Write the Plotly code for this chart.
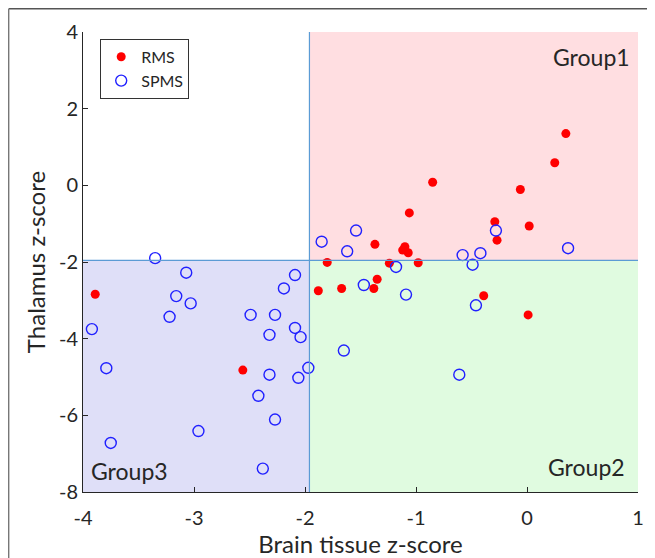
import plotly.graph_objects as go

# RMS (filled red) points
rms_x = [0.35, 0.25, -0.06, 0.02, -0.29, -0.27, -0.85, -1.06, -1.37, -1.10, -1.12, -1.07,
         -1.24, -0.98, -1.80, -1.35, -1.38, -1.67, -1.88, -0.39, 0.01, -3.89, -2.56]
rms_y = [1.35, 0.59, -0.11, -1.06, -0.95, -1.43, 0.08, -0.72, -1.54, -1.60, -1.69, -1.76,
         -2.03, -2.02, -2.01, -2.45, -2.69, -2.69, -2.75, -2.88, -3.38, -2.84, -4.82]

# SPMS (open blue) points
spms_x = [-1.85, -1.62, -1.54, -3.35, -0.28, 0.37, -1.18, -0.58, -0.42, -0.49, -1.47, -1.09,
          -0.46, -1.65, -0.61, -3.07, -3.16, -3.03, -3.22, -3.92, -3.79, -3.75, -2.96, -2.09,
          -2.19, -2.49, -2.27, -2.32, -2.09, -2.04, -1.97, -2.32, -2.06, -2.42, -2.27, -2.38]
spms_y = [-1.47, -1.72, -1.18, -1.90, -1.18, -1.64, -2.13, -1.82, -1.77, -2.07, -2.60, -2.85,
          -3.13, -4.31, -4.94, -2.28, -2.89, -3.08, -3.43, -3.75, -4.77, -6.72, -6.41, -2.34,
          -2.69, -3.38, -3.38, -3.90, -3.72, -3.96, -4.76, -4.94, -5.02, -5.49, -6.11, -7.39]

threshold = -1.96
x_range = [-4, 1]
y_range = [-8, 4]
x_ticks = [-4, -3, -2, -1, 0, 1]
y_ticks = [-8, -6, -4, -2, 0, 2, 4]
group_labels = ["Group1", "Group2", "Group3"]

font_family = "Lato, Open Sans, sans-serif"
text_color = "#262626"

W, H = 655, 558
ML, MR, MT, MB = 75, 25, 24, 74
PW, PH = W - ML - MR, H - MT - MB

fig = go.Figure()

fig.add_trace(go.Scatter(
    x=rms_x, y=rms_y, mode="markers", name="RMS",
    marker=dict(symbol="circle", size=9, color="#FF0000", line=dict(width=0)),
))
fig.add_trace(go.Scatter(
    x=spms_x, y=spms_y, mode="markers", name="SPMS",
    marker=dict(symbol="circle-open", size=11, color="#2020FF", line=dict(width=1.4)),
))

# quadrant shading
fig.add_shape(type="rect", xref="x", yref="y", x0=threshold, x1=x_range[1], y0=threshold, y1=y_range[1],
              fillcolor="#FFDEE1", line=dict(width=0), layer="below")
fig.add_shape(type="rect", xref="x", yref="y", x0=threshold, x1=x_range[1], y0=y_range[0], y1=threshold,
              fillcolor="#E0FBE0", line=dict(width=0), layer="below")
fig.add_shape(type="rect", xref="x", yref="y", x0=x_range[0], x1=threshold, y0=y_range[0], y1=threshold,
              fillcolor="#DFDFF8", line=dict(width=0), layer="below")
# divider lines
fig.add_shape(type="line", xref="x", yref="y", x0=threshold, x1=threshold, y0=y_range[0], y1=y_range[1],
              line=dict(color="#5B9BD5", width=1.2))
fig.add_shape(type="line", xref="x", yref="y", x0=x_range[0], x1=x_range[1], y0=threshold, y1=threshold,
              line=dict(color="#5B9BD5", width=1.2))

# outer frame (figure border along top and left edges)
px_left = (0.7 - ML) / PW
py_top = (PH - (0.7 - MT)) / PH
fig.add_shape(type="line", xref="paper", yref="paper", x0=px_left, x1=(W - ML) / PW, y0=py_top, y1=py_top,
              line=dict(color="#555555", width=1.4))
fig.add_shape(type="line", xref="paper", yref="paper", x0=px_left, x1=px_left, y0=-MB / PH, y1=py_top,
              line=dict(color="#777777", width=1.4))

# group labels
fig.add_annotation(x=0.99, y=0.98, xref="paper", yref="paper", text=group_labels[0],
                   showarrow=False, xanchor="right", yanchor="top",
                   font=dict(size=23, color=text_color, family=font_family))
fig.add_annotation(x=0.98, y=0.02, xref="paper", yref="paper", text=group_labels[1],
                   showarrow=False, xanchor="right", yanchor="bottom",
                   font=dict(size=23, color=text_color, family=font_family))
fig.add_annotation(x=0.01, y=0.01, xref="paper", yref="paper", text=group_labels[2],
                   showarrow=False, xanchor="left", yanchor="bottom",
                   font=dict(size=23, color=text_color, family=font_family))

fig.update_layout(
    width=W, height=H,
    margin=dict(l=ML, r=MR, t=MT, b=MB, autoexpand=False),
    paper_bgcolor="white", plot_bgcolor="white",
    font=dict(family=font_family, color=text_color),
    showlegend=True,
    legend=dict(x=0.031, y=0.985, xanchor="left", yanchor="top",
                bgcolor="white", bordercolor="#333333", borderwidth=1,
                font=dict(size=16, color=text_color, family=font_family),
                itemsizing="trace", tracegroupgap=0),
)
fig.update_xaxes(
    range=x_range, tickvals=x_ticks, ticktext=[str(v) for v in x_ticks],
    showgrid=False, zeroline=False, showline=True, linecolor="#262626", linewidth=1,
    ticks="inside", ticklen=5, tickcolor="#262626",
    tickfont=dict(size=20, color=text_color, family=font_family),
    ticklabelstandoff=8,
    title=dict(text="Brain tissue z-score", font=dict(size=24, color=text_color, family=font_family), standoff=4),
)
fig.update_yaxes(
    range=y_range, tickvals=y_ticks, ticktext=[str(v) for v in y_ticks],
    showgrid=False, zeroline=False, showline=True, linecolor="#262626", linewidth=1,
    ticks="inside", ticklen=5, tickcolor="#262626",
    tickfont=dict(size=20, color=text_color, family=font_family),
    title=dict(text="Thalamus z-score", font=dict(size=24, color=text_color, family=font_family), standoff=6),
)

fig.write_html("out.html")
